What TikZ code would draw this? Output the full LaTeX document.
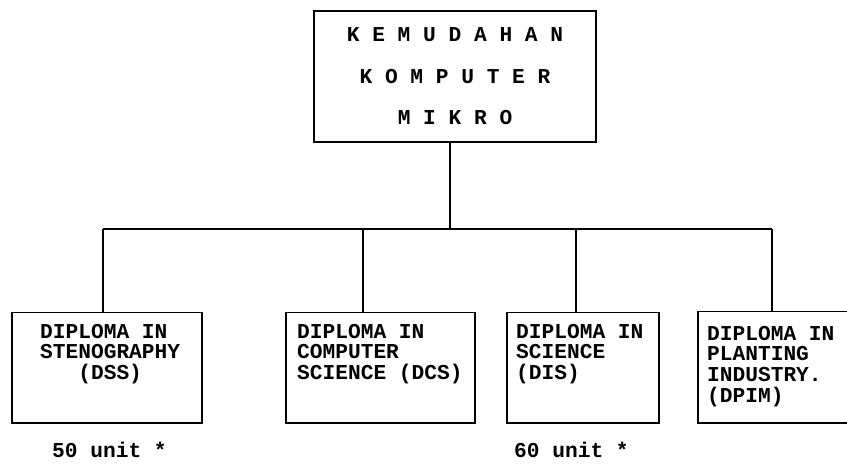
\documentclass[tikz,border=0pt]{standalone}
\usepackage{fontspec}
\newfontfamily\typewriter{Liberation Mono}
\usepackage{tikz}
\usetikzlibrary{positioning}
\tikzstyle{headbox} = [rectangle, draw=black, line width=1.5pt, minimum width=282pt, minimum height=131pt, align=center, inner sep=0pt, font=\typewriter\bfseries\fontsize{21.2}{41.5}\selectfont]
\tikzstyle{unitbox} = [rectangle, draw=black, line width=1.5pt, anchor=north west, inner sep=0pt, minimum height=110pt]
\tikzstyle{unittext} = [anchor=north west, inner sep=0pt, align=left, font=\typewriter\bfseries\fontsize{21.2}{20.6}\selectfont]
\tikzstyle{note} = [anchor=west, inner sep=0pt, font=\typewriter\bfseries\fontsize{21.2}{24}\selectfont]
\tikzstyle{link} = [line width=1.5pt]

\begin{document}
\begin{tikzpicture}[x=1pt, y=-1pt]
    \useasboundingbox (0,0) rectangle (847,465);

    % Nodes
    \node (head) [headbox] at (455,76.5) {K E M U D A H A N\\K O M P U T E R\\M I K R O};

    \node (dss) [unitbox, minimum width=190pt] at (11,312) {};
    \node (dcs) [unitbox, minimum width=189pt] at (285,312) {};
    \node (dis) [unitbox, minimum width=152pt] at (506,312) {};
    \node (dpim) [unitbox, minimum width=152pt, minimum height=111pt] at (697,311) {};

    \node (dsstext) [unittext, below right=12pt and 29pt of dss.north west] {DIPLOMA IN\\STENOGRAPHY\\\phantom{XXX}(DSS)};
    \node (dcstext) [unittext, below right=12pt and 12pt of dcs.north west] {DIPLOMA IN\\COMPUTER\\SCIENCE (DCS)};
    \node (distext) [unittext, below right=12pt and 10pt of dis.north west] {DIPLOMA IN\\SCIENCE\\(DIS)};
    \node (dpimtext) [unittext, below right=15pt and 10pt of dpim.north west] {DIPLOMA IN\\PLANTING\\INDUSTRY.\\(DPIM)};

    \node (unitdss) [note] at (52,450) {50 unit *};
    \node (unitdis) [note] at (514,450) {60 unit *};

    % Lines
    \coordinate (hub) at (450,229);
    \coordinate (d1) at (103,229);
    \coordinate (d2) at (363,229);
    \coordinate (d3) at (576,229);
    \coordinate (d4) at (772,229);

    \draw [link] (head.south -| hub) -- (hub);
    \draw [link] (d1) -- (d4);
    \draw [link] (d1) -- (d1 |- dss.north);
    \draw [link] (d2) -- (d2 |- dcs.north);
    \draw [link] (d3) -- (d3 |- dis.north);
    \draw [link] (d4) -- (d4 |- dpim.north);

\end{tikzpicture}
\end{document}
